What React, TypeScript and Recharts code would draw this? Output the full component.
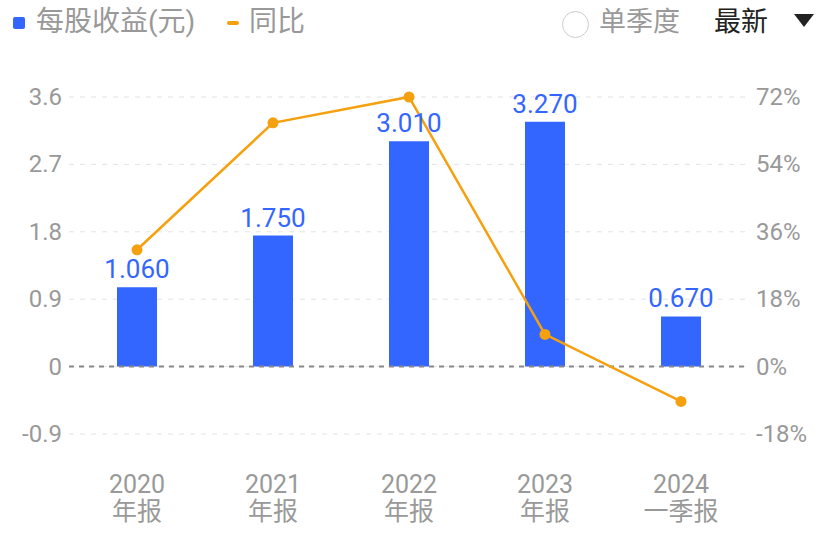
import {
  ComposedChart,
  Bar,
  Line,
  XAxis,
  YAxis,
  CartesianGrid,
  ReferenceLine,
  LabelList,
} from "recharts";

const periods = ["2020\n年报", "2021\n年报", "2022\n年报", "2023\n年报", "2024\n一季报"];
const eps = [1.06, 1.75, 3.01, 3.27, 0.67];
const yoy = [31.2, 65.1, 72.0, 8.6, -9.3];
const leftTicks = [-0.9, 0, 0.9, 1.8, 2.7, 3.6];
const rightTicks = [-18, 0, 18, 36, 54, 72];

const BLUE = "#3366ff";
const ORANGE = "#f5a00f";
const GRAY = "#999999";
const FONT = "Roboto, 'Noto Sans CJK SC', sans-serif";

const data = periods.map((p, i) => ({ name: p, eps: eps[i], yoy: yoy[i] }));

function XTick(props: any) {
  const { x, y, payload } = props;
  const [line1, line2] = String(payload.value).split("\n");
  return (
    <text x={x} y={y} textAnchor="middle" fill={GRAY} fontSize={25} fontFamily={FONT}>
      <tspan x={x} dy={59}>{line1}</tspan>
      <tspan x={x} dy={27}>{line2}</tspan>
    </text>
  );
}

function LeftTick(props: any) {
  const { y, payload } = props;
  return (
    <text x={62} y={y} dy={8} textAnchor="end" fill={GRAY} fontSize={24} fontFamily={FONT}>
      {String(payload.value)}
    </text>
  );
}

function RightTick(props: any) {
  const { y, payload } = props;
  return (
    <text x={756} y={y} dy={8} textAnchor="start" fill={GRAY} fontSize={24} fontFamily={FONT}>
      {payload.value + "%"}
    </text>
  );
}

function Header() {
  return (
    <div style={{ position: "absolute", left: 0, top: 0, width: 818, height: 45, fontFamily: FONT }}>
      <div style={{ position: "absolute", left: 13, top: 17, width: 12, height: 12, borderRadius: 2, background: BLUE }} />
      <div style={{ position: "absolute", left: 36, top: 4, fontSize: 28, lineHeight: "36px", color: GRAY }}>每股收益(元)</div>
      <div style={{ position: "absolute", left: 227, top: 21, width: 12, height: 4, borderRadius: 2, background: ORANGE }} />
      <div style={{ position: "absolute", left: 249, top: 4, fontSize: 28, lineHeight: "36px", color: GRAY }}>同比</div>
      <div style={{ position: "absolute", left: 562, top: 11, width: 25, height: 25, borderRadius: "50%", border: "1.5px solid #cccccc" }} />
      <div style={{ position: "absolute", left: 599, top: 4, fontSize: 27, lineHeight: "36px", color: GRAY }}>单季度</div>
      <div style={{ position: "absolute", left: 714, top: 4, fontSize: 27, lineHeight: "36px", color: "#222222" }}>最新</div>
      <svg style={{ position: "absolute", left: 794, top: 14 }} width={20} height={14}>
        <polygon points="0,0 20,0 10,13" fill="#222222" />
      </svg>
    </div>
  );
}

export default function App() {
  return (
    <div style={{ position: "fixed", left: 0, top: 0, width: 818, height: 534, background: "#fff" }}>
      <Header />
      <ComposedChart
        width={818}
        height={534}
        data={data}
        margin={{ top: 97, right: 0, bottom: 0, left: 0 }}
        barCategoryGap={0}
      >
        <CartesianGrid vertical={false} yAxisId="left" stroke="#e3e3e3" strokeDasharray="5 6" />
        <XAxis
          dataKey="name"
          height={100}
          axisLine={false}
          tickLine={false}
          tickSize={0}
          tickMargin={0}
          interval={0}
          tick={<XTick />}
        />
        <YAxis
          yAxisId="left"
          width={69}
          domain={[-0.9, 3.6]}
          ticks={leftTicks}
          axisLine={false}
          tickLine={false}
          tick={<LeftTick />}
        />
        <YAxis
          yAxisId="right"
          orientation="right"
          width={69}
          domain={[-18, 72]}
          ticks={rightTicks}
          axisLine={false}
          tickLine={false}
          tick={<RightTick />}
        />
        <ReferenceLine yAxisId="left" y={0} stroke="#888888" strokeWidth={2} strokeDasharray="5 5" />
        <Bar yAxisId="left" dataKey="eps" fill={BLUE} barSize={40} isAnimationActive={false}>
          <LabelList
            dataKey="eps"
            position="top"
            offset={9}
            fill={BLUE}
            fontSize={26}
            fontFamily={FONT}
            formatter={(v: any) => Number(v).toFixed(3)}
          />
        </Bar>
        <Line
          yAxisId="right"
          dataKey="yoy"
          stroke={ORANGE}
          strokeWidth={2.5}
          dot={{ r: 5.5, fill: ORANGE, stroke: "none" }}
          activeDot={false}
          isAnimationActive={false}
        />
      </ComposedChart>
    </div>
  );
}
